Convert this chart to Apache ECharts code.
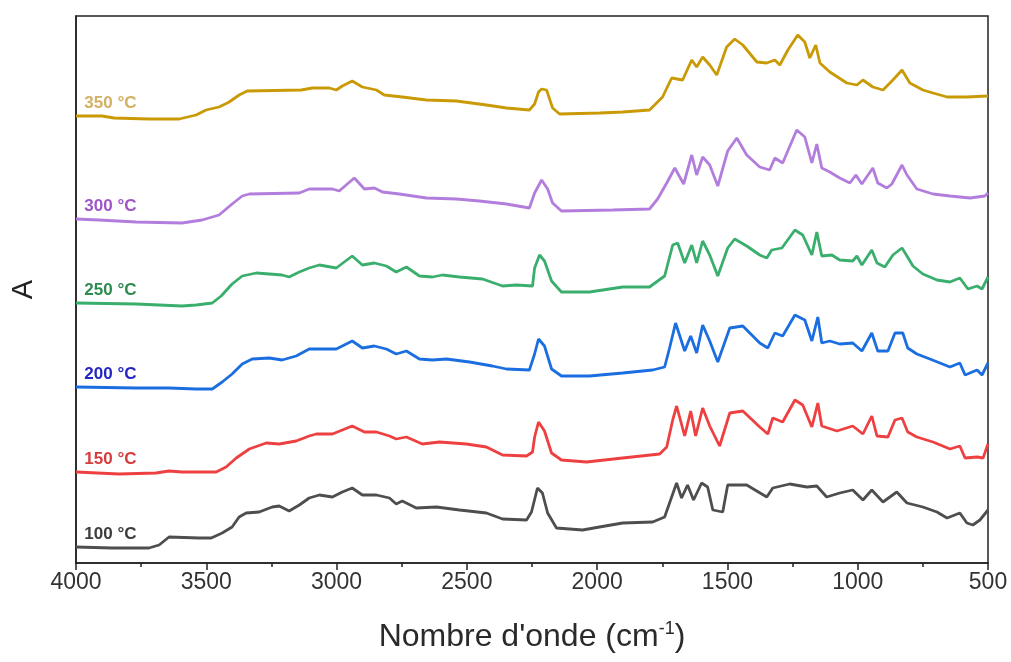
<!DOCTYPE html>
<html>
<head>
<meta charset="utf-8">
<script src="https://cdn.jsdelivr.net/npm/echarts@6/dist/echarts.min.js"></script>
<style>html,body{margin:0;padding:0;background:#fff}#c{width:1011px;height:662px}</style>
</head>
<body>
<div id="c"></div>
<script>
// Wavenumber (cm-1) / absorbance (arbitrary, offset) pairs
const s350 = [[4000,447],[3900,447],[3854,445],[3720,444],[3604,444],[3539,448],[3501,453],[3451,456],[3412,461],[3374,468],[3343,472],[3136,473],[3093,475],[3028,475],[3001,473],[2978,477],[2940,482],[2901,476],[2847,473],[2817,468],[2748,466],[2655,463],[2540,462],[2425,458],[2348,455],[2260,453],[2240,459],[2225,471],[2213,474],[2194,473],[2171,455],[2144,449],[1991,450],[1902,451],[1799,453],[1772,460],[1749,466],[1714,485],[1672,483],[1637,503],[1618,496],[1595,506],[1568,498],[1541,488],[1503,516],[1472,524],[1441,518],[1387,501],[1349,500],[1318,503],[1299,498],[1268,513],[1230,528],[1203,521],[1184,505],[1161,518],[1145,500],[1107,491],[1042,480],[1003,478],[980,483],[942,476],[903,473],[865,483],[830,493],[800,480],[750,473],[711,470],[657,466],[581,466],[500,467]];
const s300 = [[4000,344],[3912,343],[3769,341],[3593,340],[3516,343],[3451,348],[3401,359],[3362,367],[3335,369],[3143,370],[3105,374],[3078,374],[3016,374],[2990,372],[2932,385],[2893,374],[2855,375],[2824,371],[2759,369],[2655,365],[2540,364],[2452,362],[2348,359],[2260,355],[2240,370],[2213,383],[2190,374],[2171,360],[2137,352],[1941,353],[1799,354],[1768,364],[1733,380],[1702,395],[1668,379],[1637,408],[1618,388],[1595,406],[1568,398],[1537,377],[1499,412],[1464,425],[1426,408],[1376,396],[1338,393],[1318,405],[1288,400],[1234,433],[1203,426],[1176,400],[1157,419],[1138,395],[1107,391],[1069,385],[1030,380],[1007,388],[984,379],[942,395],[923,380],[888,375],[869,379],[830,398],[811,388],[773,374],[711,369],[646,367],[569,365],[512,367],[500,370]];
const s250 = [[4000,260],[3769,259],[3593,257],[3539,258],[3477,260],[3443,267],[3401,279],[3362,287],[3308,290],[3209,288],[3182,286],[3143,291],[3105,295],[3066,298],[3001,295],[2940,307],[2901,298],[2855,300],[2809,297],[2771,291],[2732,296],[2682,287],[2632,286],[2594,288],[2528,286],[2440,284],[2363,277],[2310,278],[2248,277],[2240,295],[2221,308],[2202,302],[2175,282],[2137,271],[2029,271],[1902,276],[1799,276],[1741,287],[1710,318],[1691,320],[1664,300],[1637,318],[1618,300],[1595,322],[1568,308],[1537,287],[1499,315],[1472,324],[1426,317],[1376,308],[1349,305],[1330,313],[1291,315],[1241,333],[1211,328],[1176,308],[1157,331],[1138,307],[1099,308],[1069,303],[1019,302],[1003,307],[984,298],[946,313],[926,300],[896,296],[865,308],[830,315],[811,307],[788,297],[750,289],[696,283],[646,281],[608,285],[577,274],[542,277],[523,274],[500,286]];
const s200 = [[4000,176],[3769,175],[3643,175],[3539,174],[3477,174],[3439,181],[3401,189],[3362,199],[3324,204],[3258,205],[3209,203],[3155,207],[3105,214],[3078,214],[3001,214],[2940,222],[2901,215],[2855,217],[2809,214],[2771,209],[2732,212],[2682,204],[2632,203],[2578,204],[2490,201],[2402,197],[2348,194],[2260,193],[2240,209],[2225,224],[2202,217],[2175,194],[2137,187],[2029,187],[1902,190],[1787,193],[1741,196],[1722,215],[1699,240],[1664,212],[1641,227],[1618,210],[1595,238],[1568,222],[1537,201],[1491,235],[1441,237],[1376,220],[1345,215],[1318,230],[1288,227],[1241,248],[1203,243],[1176,222],[1153,246],[1138,220],[1107,222],[1069,219],[1019,220],[984,212],[946,230],[923,212],[884,212],[857,230],[827,230],[808,215],[773,209],[723,204],[646,196],[608,200],[588,188],[542,193],[523,188],[500,200]];
const s150 = [[4000,91],[3835,89],[3693,90],[3643,92],[3593,91],[3462,91],[3424,96],[3385,105],[3335,114],[3270,120],[3220,119],[3155,122],[3105,127],[3078,129],[3016,129],[2940,137],[2893,131],[2847,131],[2797,127],[2771,124],[2732,126],[2671,119],[2605,121],[2502,119],[2425,116],[2363,108],[2271,107],[2248,111],[2240,126],[2225,141],[2202,132],[2175,110],[2137,103],[2041,101],[1902,105],[1760,109],[1733,116],[1710,143],[1695,157],[1664,127],[1641,152],[1622,127],[1595,155],[1568,137],[1530,117],[1491,150],[1441,152],[1376,136],[1345,129],[1326,145],[1288,141],[1241,163],[1211,158],[1176,136],[1153,160],[1138,137],[1080,132],[1019,137],[980,129],[946,147],[926,127],[884,126],[857,143],[830,145],[808,131],[773,126],[711,121],[646,114],[608,117],[588,105],[542,106],[519,105],[500,119]];
const s100 = [[4000,16],[3862,15],[3720,15],[3681,18],[3643,26],[3527,25],[3481,25],[3439,30],[3401,36],[3374,46],[3347,50],[3297,51],[3247,56],[3220,57],[3182,52],[3143,58],[3105,65],[3066,68],[3016,66],[2978,71],[2940,75],[2901,68],[2847,68],[2797,65],[2771,59],[2748,62],[2694,55],[2617,56],[2528,53],[2425,50],[2363,44],[2271,43],[2252,51],[2229,75],[2210,70],[2190,50],[2156,35],[2056,33],[1991,36],[1902,40],[1787,41],[1741,46],[1714,66],[1695,80],[1676,65],[1653,78],[1630,63],[1599,80],[1576,76],[1556,53],[1518,51],[1499,78],[1426,78],[1349,66],[1326,75],[1261,79],[1195,76],[1157,77],[1119,66],[1069,70],[1019,73],[980,63],[946,73],[903,61],[850,71],[811,60],[750,56],[696,51],[657,45],[608,50],[581,40],[558,38],[531,43],[500,53]];

const seriesNames = ['350 °C','300 °C','250 °C','200 °C','150 °C','100 °C'];
const seriesData = [s350, s300, s250, s200, s150, s100];
const lineColors = ['#C99A06','#B27DDC','#3AAE6C','#1A6EE0','#EE4040','#4E4E4E'];
const labelColors = ['#D2B064','#9F55C8','#2E8B4E','#2424C4','#D63C3C','#3C3C3C'];
const xTicks = [500, 4000, 500]; // min, max, interval
const labelWn = 3968;

const chart = echarts.init(document.getElementById('c'), null, {renderer:'canvas'});
const font = "'Liberation Sans', Arial, sans-serif";
chart.setOption({
  animation: false,
  backgroundColor: '#fff',
  grid: {left: 76, right: 23, top: 16, bottom: 99, show: true, borderColor: '#222', borderWidth: 1.5, backgroundColor: 'transparent'},
  xAxis: {
    type: 'value', inverse: true, min: xTicks[0], max: xTicks[1], interval: xTicks[2],
    axisLine: {show: true, onZero: false, lineStyle: {color: '#222', width: 1.5}},
    axisTick: {show: true, length: 7, lineStyle: {color: '#222', width: 1.5}},
    minorTick: {show: true, splitNumber: 2, length: 4, lineStyle: {color: '#222', width: 1.5}},
    splitLine: {show: false},
    axisLabel: {color: '#333', fontSize: 23, fontFamily: font, margin: 8, formatter: v => String(v)},
    name: "Nombre d'onde (cm{sup|-1})",
    nameLocation: 'middle', nameGap: 57,
    nameTextStyle: {color: '#2a2a2a', fontSize: 32, fontFamily: font,
      rich: {sup: {fontSize: 18, fontFamily: font, color: '#2a2a2a', verticalAlign: 'top', padding: [0,0,16,0]}}}
  },
  yAxis: {
    type: 'value', min: 0, max: 547,
    axisLine: {show: true, lineStyle: {color: '#222', width: 1.5}},
    axisTick: {show: false}, axisLabel: {show: false}, splitLine: {show: false},
    name: 'A', nameLocation: 'middle', nameRotate: 90, nameGap: 38,
    nameTextStyle: {color: '#222', fontSize: 29, fontFamily: font}
  },
  series: seriesData.map((d, i) => ({
    name: seriesNames[i], type: 'line', data: d, showSymbol: false, symbol: 'none',
    lineStyle: {color: lineColors[i], width: 2.8}, z: 10 - i,
    markPoint: {
      symbol: 'circle', symbolSize: 0, silent: true, animation: false,
      data: [{coord: [labelWn, d[0][1]]}],
      label: {show: true, position: 'top', distance: 4, align: 'left', formatter: seriesNames[i],
        color: labelColors[i], fontSize: 17, fontWeight: 'bold', fontFamily: font}
    }
  }))
});
</script>
</body>
</html>
